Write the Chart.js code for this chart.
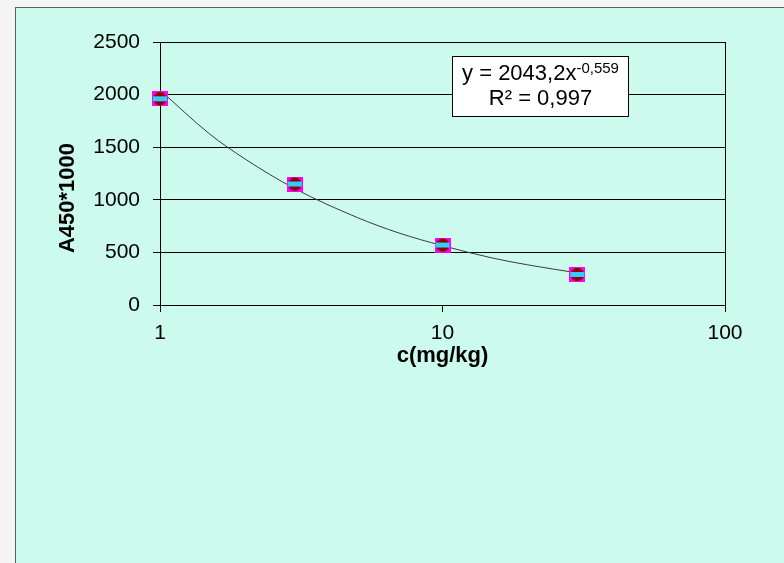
<!DOCTYPE html>
<html>
<head>
<meta charset="utf-8">
<script src="https://cdn.jsdelivr.net/npm/chart.js@4/dist/chart.umd.min.js"></script>
<style>
  html, body { margin: 0; padding: 0; width: 784px; height: 563px; overflow: hidden; background: #f4f4f4; }
  #frame { position: absolute; left: 15px; top: 7px; width: 800px; height: 600px; background: #CCFAEC; border-left: 1px solid #55625e; border-top: 1px solid #55625e; }
  #wrap { position: absolute; left: 0; top: 0; width: 784px; height: 563px; }
</style>
</head>
<body>
<div id="frame"></div>
<div id="wrap"><canvas id="c" width="784" height="563"></canvas></div>
<script>
// Measured points
const concentrations = [1, 3, 10, 30];
const absorbance = [1960, 1150, 570, 290];
// Trend line (power fit) values
const trendX = [1, 1.5, 2, 3, 5, 7, 10, 15, 20, 30];
const trendY = [2043, 1625, 1388, 1106, 831, 685, 564, 447, 382, 305];
// Axis ticks
const xTicks = [1, 10, 100];
const yTicks = [0, 500, 1000, 1500, 2000, 2500];
const xTitle = 'c(mg/kg)';
const yTitle = 'A450*1000';
const eqMain = 'y = 2043,2x';
const eqExp = '-0,559';
const eqR2 = 'R² = 0,997';

const FONT = '"Liberation Sans", Arial, sans-serif';

// Excel-like marker: magenta square, dark red disc, cyan band
const mk = document.createElement('canvas');
mk.width = 16; mk.height = 15;
(function () {
  const c = mk.getContext('2d');
  c.fillStyle = '#FF00FF'; c.fillRect(0, 0, 16, 15);
  c.fillStyle = '#8B0000'; c.beginPath(); c.arc(8, 7.5, 6.8, 0, 2 * Math.PI); c.fill();
  c.fillStyle = '#33CCFF'; c.fillRect(1, 5, 14, 5);
})();

const overlay = {
  id: 'overlay',
  beforeDatasetsDraw(chart) {
    const ctx = chart.ctx;
    const a = chart.chartArea;
    ctx.save();
    ctx.strokeStyle = '#000'; ctx.lineWidth = 1;
    ctx.strokeRect(Math.round(a.left) + 0.5, Math.round(a.top) + 0.5, Math.round(a.right - a.left), Math.round(a.bottom - a.top));
    ctx.restore();
  },
  afterDraw(chart) {
    const ctx = chart.ctx;
    const a = chart.chartArea;
    ctx.save();
    ctx.fillStyle = '#000';
    ctx.font = 'bold 22px ' + FONT;
    ctx.textAlign = 'center'; ctx.textBaseline = 'middle';
    ctx.fillText(xTitle, (a.left + a.right) / 2, 356);
    ctx.save();
    ctx.translate(68, 198);
    ctx.rotate(-Math.PI / 2);
    ctx.fillText(yTitle, 0, 0);
    ctx.restore();
    const bx = 452.5, by = 56.5, bw = 176, bh = 60;
    ctx.fillStyle = '#fff'; ctx.fillRect(bx, by, bw, bh);
    ctx.strokeStyle = '#000'; ctx.lineWidth = 1; ctx.strokeRect(bx, by, bw, bh);
    ctx.fillStyle = '#000';
    ctx.textBaseline = 'alphabetic'; ctx.textAlign = 'left';
    ctx.font = '22px ' + FONT;
    const w1 = ctx.measureText(eqMain).width;
    ctx.font = '15px ' + FONT;
    const w2 = ctx.measureText(eqExp).width;
    const cx = bx + bw / 2;
    const sx = cx - (w1 + w2) / 2;
    ctx.font = '22px ' + FONT;
    ctx.fillText(eqMain, sx, 80);
    ctx.font = '15px ' + FONT;
    ctx.fillText(eqExp, sx + w1, 73);
    ctx.font = '22px ' + FONT;
    ctx.textAlign = 'center';
    ctx.fillText(eqR2, cx, 105);
    ctx.restore();
  }
};

new Chart(document.getElementById('c'), {
  type: 'scatter',
  data: {
    datasets: [
      {
        label: 'data',
        data: concentrations.map((x, i) => ({ x, y: absorbance[i] })),
        pointStyle: mk,
        pointRadius: 8,
        showLine: false,
        clip: false,
        order: 0
      },
      {
        label: 'trend',
        data: trendX.map((x, i) => ({ x, y: trendY[i] })),
        showLine: true,
        pointRadius: 0,
        borderColor: '#3a3a3a',
        borderWidth: 1,
        tension: 0.4,
        cubicInterpolationMode: 'monotone',
        order: 1
      }
    ]
  },
  options: {
    responsive: false,
    animation: false,
    events: [],
    layout: { padding: { left: 0, top: 42, right: 59, bottom: 0 } },
    plugins: { legend: { display: false }, tooltip: { enabled: false } },
    scales: {
      x: {
        type: 'logarithmic',
        min: 1, max: 100,
        afterBuildTicks: s => { s.ticks = xTicks.map(v => ({ value: v })); },
        afterFit: s => { s.height = 258; },
        grid: { drawOnChartArea: false, color: '#000', tickColor: '#000', tickLength: 7, lineWidth: 1 },
        border: { display: true, color: '#000', width: 1 },
        ticks: {
          autoSkip: false, maxRotation: 0, padding: 9,
          color: '#000', font: { family: FONT, size: 21 },
          callback: v => String(v)
        }
      },
      y: {
        min: 0, max: 2500,
        afterBuildTicks: s => { s.ticks = yTicks.map(v => ({ value: v })); },
        afterFit: s => { s.width = 160; },
        grid: { color: '#000', tickColor: '#000', tickLength: 7, lineWidth: 1 },
        border: { display: true, color: '#000', width: 1 },
        ticks: {
          padding: 13, color: '#000', font: { family: FONT, size: 21 },
          callback: v => String(v)
        }
      }
    }
  },
  plugins: [overlay]
});
</script>
</body>
</html>
